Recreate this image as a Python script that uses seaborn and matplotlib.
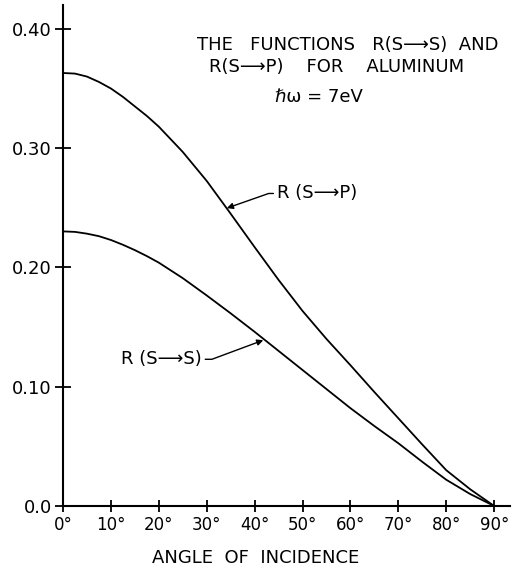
import numpy as np
import pandas as pd
import matplotlib
matplotlib.use("Agg")
import matplotlib.pyplot as plt
import seaborn as sns

# Data
angles = [0, 2.5, 5, 7.5, 10, 12.5, 15, 17.5, 20, 25, 30, 35, 40, 45, 50, 55, 60, 65, 70, 75, 80, 85, 90]
r_sp = [0.363, 0.3625, 0.360, 0.3555, 0.350, 0.343, 0.335, 0.327, 0.318, 0.2968, 0.2725,
        0.245, 0.217, 0.1895, 0.1635, 0.140, 0.118, 0.0955, 0.0735, 0.0515, 0.030, 0.014, 0.0]
r_ss = [0.2302, 0.2298, 0.2283, 0.2262, 0.223, 0.219, 0.2145, 0.2095, 0.204, 0.191, 0.1765,
        0.1615, 0.146, 0.130, 0.114, 0.098, 0.082, 0.067, 0.0526, 0.037, 0.022, 0.010, 0.0]
xtick_vals = [0, 10, 20, 30, 40, 50, 60, 70, 80, 90]
xtick_labels = ["0°", "10°", "20°", "30°", "40°", "50°", "60°", "70°", "80°", "90°"]
ytick_vals = [0.0, 0.10, 0.20, 0.30, 0.40]
ytick_labels = ["0.0", "0.10", "0.20", "0.30", "0.40"]

df = pd.DataFrame({
    "angle": angles * 2,
    "R": r_sp + r_ss,
    "series": ["R(S→P)"] * len(angles) + ["R(S→S)"] * len(angles),
})

sns.set_theme(style="white")
plt.rcParams['font.family'] = ['DejaVu Sans']
plt.rcParams['text.color'] = 'black'
plt.rcParams['axes.labelcolor'] = 'black'
plt.rcParams['xtick.color'] = 'black'
plt.rcParams['ytick.color'] = 'black'

W, H = 513, 571
fig = plt.figure(figsize=(W / 100, H / 100), dpi=100)
ax = fig.add_axes([63 / W, 65 / H, 447 / W, 501 / H])

sns.lineplot(data=df, x="angle", y="R", hue="series", palette=["black", "black"],
             linewidth=1.3, legend=False, ax=ax, estimator=None)

ax.set_xlim(0, 93.3)
ax.set_ylim(0, 0.42)
for s in ["top", "right"]:
    ax.spines[s].set_visible(False)
for s in ["left", "bottom"]:
    ax.spines[s].set_color("black")
    ax.spines[s].set_linewidth(1.5)

ax.set_xticks(xtick_vals)
ax.set_xticklabels(xtick_labels)
ax.set_yticks(ytick_vals)
ax.set_yticklabels(ytick_labels)
ax.tick_params(axis="y", direction="inout", length=11, width=1.3, color="black",
               labelcolor="black", labelsize=13, pad=2.5, left=True)
ax.tick_params(axis="x", direction="inout", length=8, width=1.3, color="black",
               labelcolor="black", labelsize=12, pad=3, bottom=True)

ax.set_xlabel("ANGLE  OF  INCIDENCE", fontsize=13, color="black")
ax.xaxis.set_label_coords(0.431, -0.085)
ax.set_ylabel("")

# Title block
def ftext(x, y, s, **kw):
    fig.text(x / W, 1 - y / H, s, va="center", ha="left", color="black", **kw)

ftext(197, 45, "THE   FUNCTIONS   R(S⟶S)  AND", fontsize=13)
ftext(209, 67, "R(S⟶P)    FOR    ALUMINUM", fontsize=13)
ftext(275, 97, "ℏω = 7eV", fontsize=13)

# Curve labels with leader arrows
arrow = dict(arrowstyle="-|>", color="black", lw=1.0, mutation_scale=9,
             shrinkA=0, shrinkB=0)
ax.annotate("R (S⟶P)", xy=(34.2, 0.2497), xytext=(44.6, 0.262),
            fontsize=13, ha="left", va="center", color="black",
            arrowprops=dict(arrow, relpos=(0, 0.5),
                            connectionstyle="arc,angleA=180,armA=8,angleB=0,armB=0,rad=0"))
ax.annotate("R (S⟶S)", xy=(41.8, 0.139), xytext=(29.0, 0.123),
            fontsize=13, ha="right", va="center", color="black",
            arrowprops=dict(arrow, relpos=(1, 0.5),
                            connectionstyle="arc,angleA=0,armA=10,angleB=0,armB=0,rad=0"))

fig.savefig("out.png", dpi=100, facecolor="white")
